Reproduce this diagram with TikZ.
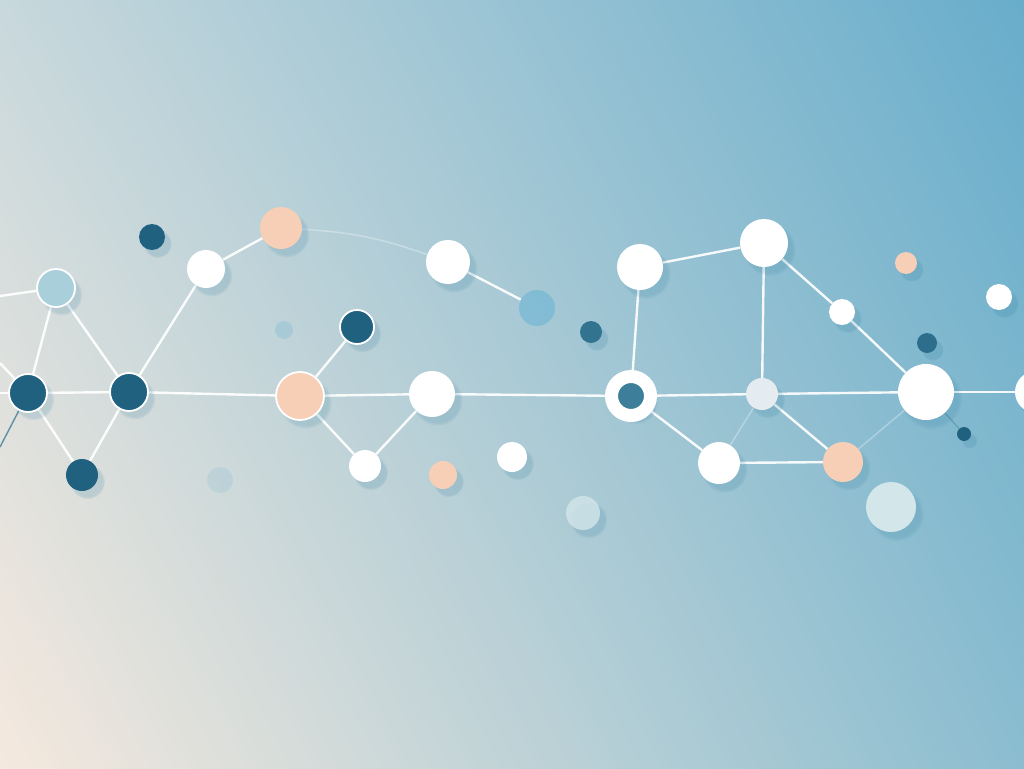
\documentclass[tikz,border=0pt]{standalone}
\usepackage{tikz}
\usepackage{xcolor}
\usetikzlibrary{shadings,shadows}
\definecolor{bgtl}{HTML}{C8D8DC}
\definecolor{bgtr}{HTML}{68ADCB}
\definecolor{bgbl}{HTML}{F5E9DE}
\definecolor{bgbr}{HTML}{8BBDD0}
\definecolor{netdark}{HTML}{1F617F}
\definecolor{netlight}{HTML}{A9CFDB}
\definecolor{netpeach}{HTML}{F6CFB6}
\definecolor{netpale}{HTML}{D3E6EA}
\definecolor{netgray}{HTML}{E4ECF1}
\definecolor{netsky}{HTML}{7DBAD4}
\definecolor{ringdark}{HTML}{3D7E9B}
\definecolor{shadowblue}{HTML}{2F7C9E}
\pgfdeclarelayer{back}
\pgfdeclarelayer{links}
\pgfsetlayers{back,links,main}
\tikzset{
    dot/.style={circle, inner sep=0pt, draw=none, minimum size=#1,
        circular drop shadow={shadow xshift=5pt, shadow yshift=-6pt, fill=shadowblue, opacity=0.18}},
    wdot/.style={dot=#1, fill=white},
    ddot/.style={dot=#1, fill=netdark},
    pdot/.style={dot=#1, fill=netpeach},
    rim/.style={draw=white, line width=1.8pt},
    link/.style={draw=white, line width=2.4pt, opacity=0.92},
    faint/.style={draw=white, line width=1.5pt, opacity=0.3},
}
\begin{document}
\begin{tikzpicture}[x=1pt,y=-1pt]
    \useasboundingbox (0,0) rectangle (1024,768);
    \clip (0,0) rectangle (1024,768);
    \begin{pgfonlayer}{back}
        \shade[upper left=bgtl, upper right=bgtr, lower left=bgbl, lower right=bgbr] (0,0) rectangle (1024,768);
    \end{pgfonlayer}
    % left cluster
    \node[dot=38pt, fill=netlight, rim] (lb1) at (56,288) {};
    \node[ddot=26pt] (d1) at (152,237) {};
    \node[wdot=38pt] (w1) at (206,269) {};
    \node[pdot=42pt] (p1) at (281,228) {};
    \node[ddot=38pt, rim] (d2) at (28,393) {};
    \node[ddot=38pt, rim] (d3) at (129,392) {};
    \node[ddot=32pt] (d4) at (82,475) {};
    \node[circle, inner sep=0pt, minimum size=18pt, fill=netsky, opacity=0.35] (s1) at (284,330) {};
    \node[circle, inner sep=0pt, minimum size=26pt, fill=netsky, opacity=0.2] (s2) at (220,480) {};
    % middle cluster
    \node[pdot=48pt, rim] (p2) at (300,396) {};
    \node[ddot=34pt, rim] (d6) at (357,327) {};
    \node[wdot=44pt] (w2) at (448,262) {};
    \node[circle, inner sep=0pt, minimum size=36pt, fill=netsky, opacity=0.85] (lb2) at (537,308) {};
    \node[dot=22pt, fill=netdark!80!netsky] (d5) at (591,332) {};
    \node[wdot=46pt] (w3) at (432,394) {};
    \node[wdot=32pt] (w4) at (365,466) {};
    \node[pdot=28pt] (p3) at (443,475) {};
    \node[wdot=30pt] (w5) at (512,457) {};
    \node[dot=34pt, fill=netpale, opacity=0.8] (lb3) at (583,513) {};
    % right cluster
    \node[dot=39pt, fill=ringdark, draw=white, line width=13pt] (ring) at (631,396) {};
    \node[wdot=46pt] (w6) at (640,267) {};
    \node[wdot=48pt] (w7) at (764,243) {};
    \node[dot=32pt, fill=netgray] (g1) at (762,394) {};
    \node[wdot=26pt] (w8) at (842,312) {};
    \node[pdot=22pt] (p4) at (906,263) {};
    \node[wdot=26pt] (w9) at (999,297) {};
    \node[ddot=20pt, fill=netdark!85!netsky] (d7) at (927,343) {};
    \node[wdot=56pt] (w10) at (926,392) {};
    \node[wdot=42pt] (w11) at (1036,392) {};
    \node[ddot=14pt] (d8) at (964,434) {};
    \node[wdot=42pt] (w12) at (719,463) {};
    \node[pdot=40pt] (p5) at (843,462) {};
    \node[dot=50pt, fill=netpale] (lb4) at (891,507) {};
    % loose ends at the left border
    \coordinate (e1) at (0,296);
    \coordinate (e2) at (0,393);
    \coordinate (e3) at (0,363);
    \coordinate (e4) at (0,447);
    \begin{pgfonlayer}{links}
        \draw[link] (e1) -- (lb1);
        \draw[link] (e2) -- (d2);
        \draw[link] (e3) -- (d2);
        \draw[draw=netdark!70!netsky, line width=1.4pt, opacity=0.8] (d2) -- (e4);
        \draw[link] (lb1) -- (d2);
        \draw[link] (lb1) -- (d3);
        \draw[link] (d2) -- (d3);
        \draw[link] (d2) -- (d4);
        \draw[link] (d3) -- (d4);
        \draw[link] (d3) -- (w1);
        \draw[link] (w1) -- (p1);
        \draw[link] (d3) -- (p2);
        \draw[link] (p2) -- (d6);
        \draw[link] (p2) -- (w3);
        \draw[link] (p2) -- (w4);
        \draw[link] (w4) -- (w3);
        \draw[link] (w2) -- (lb2);
        \draw[faint] (p1) to[bend left=8] (w2);
        \draw[link] (w3) -- (ring);
        \draw[link] (ring) -- (w6);
        \draw[link] (w6) -- (w7);
        \draw[link] (w7) -- (g1);
        \draw[link] (w7) -- (w8);
        \draw[link] (w8) -- (w10);
        \draw[link] (ring) -- (g1);
        \draw[link] (g1) -- (w10);
        \draw[link] (w10) -- (w11);
        \draw[link] (ring) -- (w12);
        \draw[link] (w12) -- (p5);
        \draw[link] (g1) -- (p5);
        \draw[faint] (g1) -- (w12);
        \draw[faint] (p5) -- (w10);
        \draw[draw=netdark, line width=1.2pt, opacity=0.3] (w10) -- (d8);
    \end{pgfonlayer}
\end{tikzpicture}
\end{document}
